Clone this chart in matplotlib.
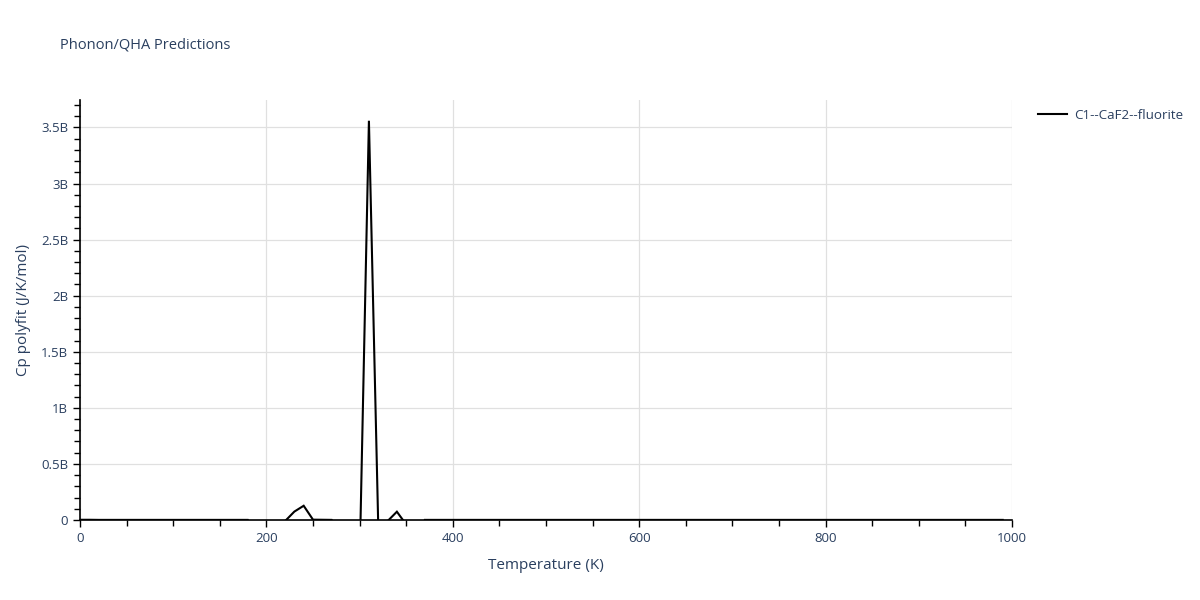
import numpy as np
import matplotlib.pyplot as plt
from matplotlib.ticker import FuncFormatter, MultipleLocator

# temperatures (K), every 10 K
temperature = list(range(0, 1000, 10))

# Cp polyfit values in billions of J/K/mol
# negative values fall below the visible range (shown as gaps)
cp_billions = [
    0.002, 0.002, 0.001, 0.001, 0.001, 0.001, 0.001, 0.001, 0.001, 0.001,   # 0-90
    0.001, 0.001, 0.001, 0.001, 0.001, 0.001, 0.001, 0.001, 0.001, -0.20,   # 100-190
    -0.35, -0.15, -0.01, 0.075, 0.127, 0.003, 0.002, 0.001, -0.15, -0.30,   # 200-290
    -0.40, 3.56, -0.05, -0.01, 0.074, -0.04, -0.30, 0.001, 0.001, 0.001,    # 300-390
    0.001, 0.001, 0.001, 0.001, 0.001, 0.001, 0.001, 0.001, 0.001, 0.001,   # 400-490
    0.001, 0.001, 0.001, 0.001, 0.001, 0.001, 0.001, 0.001, 0.001, 0.001,   # 500-590
    0.001, 0.001, 0.001, 0.001, 0.001, 0.001, 0.001, 0.001, 0.001, 0.001,   # 600-690
    0.001, 0.001, 0.001, 0.001, 0.001, 0.001, 0.001, 0.001, 0.001, 0.001,   # 700-790
    0.001, 0.001, 0.001, 0.001, 0.001, 0.001, 0.001, 0.001, 0.001, 0.001,   # 800-890
    0.001, 0.001, 0.001, 0.001, 0.001, 0.001, 0.001, 0.001, 0.001, 0.001,   # 900-990
]

series_label = 'C1--CaF2--fluorite'
chart_title = 'Phonon/QHA Predictions'

text_color = '#2a3f5f'
grid_color = '#e0e0e0'

plt.rcParams['font.family'] = ['Open Sans', 'DejaVu Sans']

fig = plt.figure(figsize=(12, 6), dpi=100)
ax = fig.add_axes([80 / 1200, 80 / 600, 932 / 1200, 420 / 600])

cp = np.array(cp_billions) * 1e9
ax.plot(temperature, cp, color='black', linewidth=1.5, label=series_label,
        solid_joinstyle='miter', zorder=3)

ax.set_xlim(0, 1000)
ax.set_ylim(0, 3.745e9)

ax.xaxis.set_major_locator(MultipleLocator(200))
ax.xaxis.set_minor_locator(MultipleLocator(50))
ax.yaxis.set_major_locator(MultipleLocator(0.5e9))
ax.yaxis.set_minor_locator(MultipleLocator(0.1e9))


def billions(v, pos):
    if v == 0:
        return '0'
    return f'{v / 1e9:g}B'


ax.yaxis.set_major_formatter(FuncFormatter(billions))

ax.grid(True, which='major', color=grid_color, linewidth=0.9)
ax.set_axisbelow(True)
# no vertical grid line at the right edge
for tick in ax.xaxis.get_major_ticks():
    if tick.get_loc() >= 1000:
        tick.gridline.set_visible(False)

for side in ['top', 'right']:
    ax.spines[side].set_visible(False)
for side in ['left', 'bottom']:
    ax.spines[side].set_color('black')
    ax.spines[side].set_linewidth(1.2)

ax.tick_params(which='both', direction='out', length=5, width=1, color='black',
               labelcolor=text_color, labelsize=9.5)
ax.tick_params(which='minor', length=4)
ax.tick_params(axis='x', pad=4)

ax.set_xlabel('Temperature (K)', color=text_color, fontsize=11, labelpad=9)
ax.set_ylabel('Cp polyfit (J/K/mol)', color=text_color, fontsize=11, labelpad=7)

fig.text(60 / 1200, 1 - 45 / 600, chart_title, color=text_color, fontsize=10.5,
         va='center', ha='left')

leg = ax.legend(loc='upper left', bbox_to_anchor=(1.015, 1.008), frameon=False,
                fontsize=9.6, handlelength=2.2, handletextpad=0.5)
for t in leg.get_texts():
    t.set_color(text_color)

fig.savefig('out.png', dpi=100)
